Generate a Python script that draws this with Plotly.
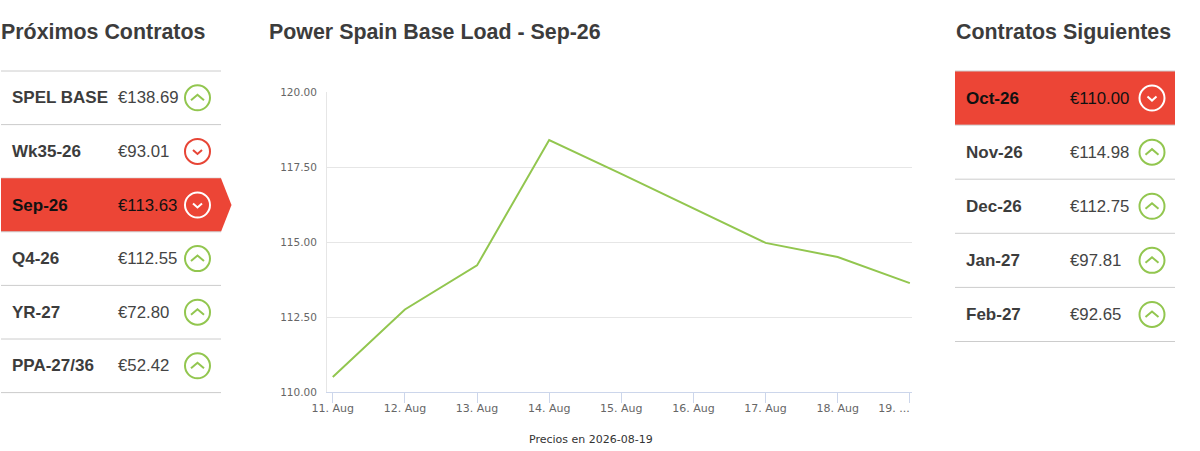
import plotly.graph_objects as go

W, H = 1200, 451
L, R, T, B = 327, 912, 92, 392
FONT = "Liberation Sans"
GREEN = "#92c64f"
RED = "#ec4536"
DARK = "#3c3c3c"

days = ["11. Aug", "12. Aug", "13. Aug", "14. Aug", "15. Aug", "16. Aug", "17. Aug", "18. Aug", "19. ..."]
prices = [110.50, 112.75, 114.22, 118.40, 117.27, 116.12, 114.97, 114.50, 113.63]
y_ticks = [110, 112.5, 115, 117.5, 120]

left_names = ["SPEL BASE", "Wk35-26", "Sep-26", "Q4-26", "YR-27", "PPA-27/36"]
left_prices = ["€138.69", "€93.01", "€113.63", "€112.55", "€72.80", "€52.42"]
left_up = [True, False, False, True, True, True]

right_names = ["Oct-26", "Nov-26", "Dec-26", "Jan-27", "Feb-27"]
right_prices = ["€110.00", "€114.98", "€112.75", "€97.81", "€92.65"]
right_up = [False, True, True, True, True]


def px(x):
    return (x - L) / (R - L)


def py(y):
    return (B - y) / (B - T)


shapes = []
annotations = []


def text(x, y, s, size=16.8, bold=False, color=DARK, anchor="left", family=FONT):
    annotations.append(dict(
        x=px(x), y=py(y), xref="paper", yref="paper", text=f"<b>{s}</b>" if bold else s,
        showarrow=False, xanchor=anchor, yanchor="middle", borderpad=0, borderwidth=0,
        font=dict(family=family, size=size, color=color),
    ))


def rule(x0, x1, y):
    shapes.append(dict(type="line", xref="paper", yref="paper", x0=px(x0), x1=px(x1), y0=py(y), y1=py(y),
                       line=dict(color="#cccccc", width=1)))


def icon(cx, cy, up, active):
    color = "white" if active else (GREEN if up else "#e74536")
    r = 12.5
    shapes.append(dict(type="circle", xref="paper", yref="paper", x0=px(cx - r), x1=px(cx + r),
                       y0=py(cy + r), y1=py(cy - r), line=dict(color=color, width=2)))
    if up:
        pts = [(cx - 6.5, cy + 2.5), (cx, cy - 3), (cx + 6.5, cy + 2.5)]
    else:
        pts = [(cx - 4.5, cy - 1.5), (cx, cy + 2.5), (cx + 4.5, cy - 1.5)]
    path = "M " + " L ".join(f"{px(a):.5f},{py(b):.5f}" for a, b in pts)
    shapes.append(dict(type="path", xref="paper", yref="paper", path=path, line=dict(color=color, width=2)))


def panel(names, vals, ups, x0, x1, top, step, active, name_x, price_x, icon_x, arrow=False):
    for i, (n, v, u) in enumerate(zip(names, vals, ups)):
        y0 = top + i * step
        y1 = y0 + step
        on = i == active
        if on:
            pts = [(x0, y0), (x1, y0)] + ([(x1 + 10.5, (y0 + y1) / 2)] if arrow else []) + [(x1, y1), (x0, y1)]
            path = "M " + " L ".join(f"{px(a):.5f},{py(b):.5f}" for a, b in pts) + " Z"
            shapes.append(dict(type="path", xref="paper", yref="paper", path=path, fillcolor=RED,
                               line=dict(width=0)))
        rule(x0, x1, y1)
        if i == 0:
            rule(x0, x1, y0)
        cy = (y0 + y1) / 2
        col = "#111111" if on else DARK
        text(name_x, cy, n, size=17, bold=True, color=col)
        text(price_x, cy, v, color="#111111" if on else "#444444")
        icon(icon_x, cy, u, on)


panel(left_names, left_prices, left_up, 1, 221, 71, 53.6, 2, 12, 118, 197.5, arrow=True)
panel(right_names, right_prices, right_up, 955, 1175, 71, 54.1, 0, 966.5, 1070, 1152)

text(1, 32, "Próximos Contratos", size=21.4, bold=True)
text(269, 32, "Power Spain Base Load - Sep-26", size=21.4, bold=True)
text(956, 32, "Contratos Siguientes", size=21.4, bold=True)
text(591, 439, "Precios en 2026-08-19", size=11, color="#333333", anchor="center", family="DejaVu Sans")

# last label sits left of its tick in the original, padded so it doesn't run off the axis
tick_labels = days[:-1] + [days[-1] + "\u00a0" * 9]

fig = go.Figure(go.Scatter(x=days, y=prices, mode="lines", line=dict(color=GREEN, width=2), hoverinfo="x+y"))
fig.update_layout(
    width=W, height=H, autosize=False,
    margin=dict(l=L, r=W - R, t=T, b=H - B, pad=0),
    paper_bgcolor="white", plot_bgcolor="white",
    showlegend=False, shapes=shapes, annotations=annotations,
    font=dict(family="DejaVu Sans", size=11, color="#666666"),
)
fig.update_xaxes(
    type="category", categoryorder="array", categoryarray=days, range=[-0.08, 8.03],
    tickmode="array", tickvals=days, ticktext=tick_labels,
    showgrid=False, zeroline=False, showline=True, linecolor="#ccd6eb", linewidth=1,
    ticks="outside", ticklen=10, tickcolor="#ccd6eb", tickwidth=1, ticklabelstandoff=-4,
    tickangle=0, tickfont=dict(family="DejaVu Sans", size=11, color="#666666"),
)
fig.update_yaxes(
    range=[110, 120], tickmode="array", tickvals=y_ticks, tickformat=".2f",
    showgrid=True, gridcolor="#e6e6e6", gridwidth=1, zeroline=False,
    showline=True, linecolor="#e6e6e6", linewidth=1, ticks="", ticklabelstandoff=7,
    tickfont=dict(family="DejaVu Sans", size=10.5, color="#666666"),
)
# the page's default body margin would push everything 8px down and right
fig.write_html("out.html", config={"displayModeBar": False}, post_script="document.body.style.margin='0';")
